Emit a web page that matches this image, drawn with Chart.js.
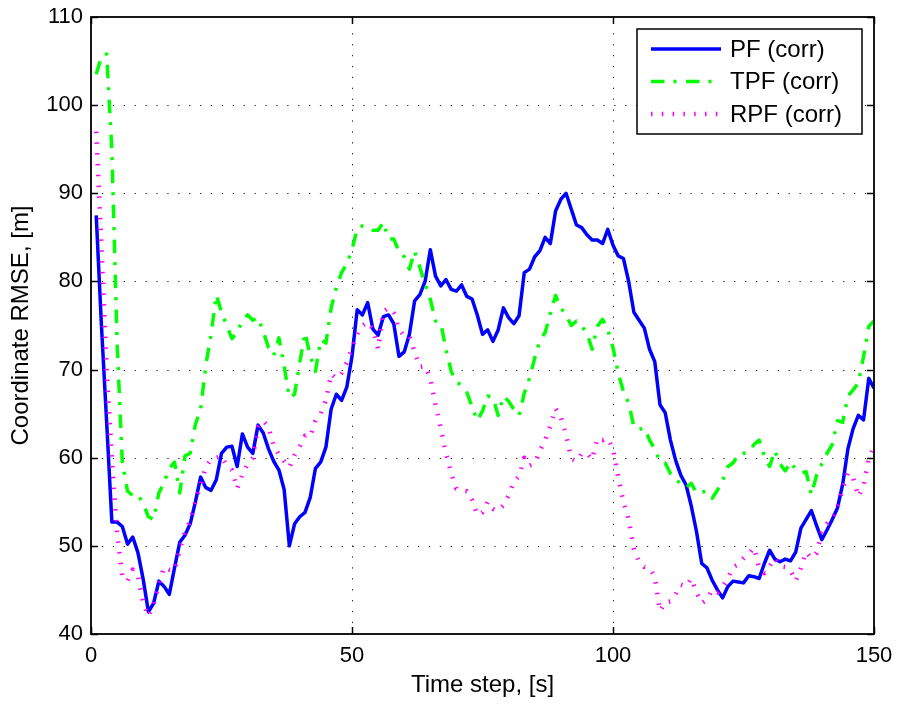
<!DOCTYPE html>
<html><head><meta charset="utf-8">
<script src="https://cdn.jsdelivr.net/npm/chart.js@4.4.1/dist/chart.umd.min.js"></script>
<style>html,body{margin:0;padding:0;background:#fff}canvas{display:block}</style>
</head><body>
<canvas id="c" width="898" height="704"></canvas>
<script>
const steps = Array.from({length: 150}, (_, i) => i + 1);
const xTicks = [0, 50, 100, 150];
const yTicks = [40, 50, 60, 70, 80, 90, 100, 110];
const seriesNames = ['PF (corr)', 'TPF (corr)', 'RPF (corr)'];
const xTitle = 'Time step, [s]';
const yTitle = 'Coordinate RMSE, [m]';

const pf = [
  87.5, 75, 64, 52.7, 52.7, 52.2, 50.2, 51.0, 49.2, 46.2,
  42.5, 43.5, 46.0, 45.4, 44.5, 47.5, 50.4, 51.2, 52.5, 55.0,
  57.8, 56.6, 56.3, 57.5, 60.5, 61.2, 61.3, 59.0, 62.7, 61.2,
  60.5, 63.7, 62.8, 61.0, 59.6, 58.6, 56.4, 50.0, 52.5, 53.3,
  53.8, 55.5, 58.8, 59.5, 61.2, 65.5, 67.2, 66.5, 68.0, 71.5,
  76.8, 76.2, 77.6, 74.6, 73.9, 76.0, 76.2, 75.2, 71.5, 72.0,
  74.0, 77.8, 78.5, 80.0, 83.6, 80.6, 79.5, 80.2, 79.1, 78.9,
  79.6, 78.3, 78.0, 76.2, 74.0, 74.5, 73.2, 74.5, 77.0, 75.9,
  75.2, 76.1, 81.0, 81.4, 82.8, 83.5, 85.0, 84.3, 88.0, 89.3,
  90.0, 88.2, 86.4, 86.1, 85.3, 84.7, 84.7, 84.3, 85.9, 84.1,
  82.9, 82.6, 80.0, 76.5, 75.6, 74.7, 72.3, 70.9, 66.0, 65.1,
  62.0, 59.7, 58.0, 56.9, 54.5, 51.6, 48.0, 47.5, 46.1, 45.0,
  44.1, 45.4, 46.0, 45.9, 45.8, 46.6, 46.5, 46.3, 48.0, 49.5,
  48.5, 48.2, 48.5, 48.3, 49.3, 52.0, 53.0, 54.0, 52.3, 50.7,
  51.8, 53.0, 54.3, 57.0, 61.0, 63.3, 64.8, 64.3, 69.0, 67.9
];
const tpf = [
  103.5, 105.5, 105.8, 94.8, 73.0, 59.5, 56.2, 55.7, 55.8, 54.8,
  53.3, 53.0, 56.0, 57.2, 58.8, 59.5, 56.0, 60.2, 60.5, 63.8,
  65.5, 70.5, 74.0, 78.5, 76.5, 75.0, 73.5, 74.2, 75.6, 76.2,
  75.6, 75.9, 74.3, 72.5, 71.6, 73.6, 70.4, 66.8, 67.2, 70.8,
  74.2, 71.5, 69.8, 73.4, 73.0, 77.0, 79.3, 81.0, 82.0, 83.6,
  86.0, 86.3, 86.2, 85.8, 85.8, 86.7, 84.8, 84.8, 83.4, 82.8,
  81.4, 83.4, 81.6, 79.7, 78.0, 75.5, 75.3, 72.3, 69.8, 68.6,
  68.2, 67.4, 65.8, 64.2, 65.3, 67.0, 66.8, 64.8, 67.0, 66.4,
  65.5, 64.8, 67.3, 69.0, 71.3, 73.3, 74.2, 76.4, 78.4, 77.0,
  76.2, 75.0, 75.5, 74.9, 74.2, 72.3, 74.9, 75.7, 74.5, 72.5,
  69.6, 67.5, 66.2, 63.5, 63.2, 63.4, 62.0, 61.0, 59.5, 59.4,
  58.2, 57.6, 57.0, 56.6, 57.1, 56.0, 56.1, 56.2, 55.4, 56.3,
  57.4, 59.0, 59.4, 60.4, 60.5, 60.6, 61.5, 62.0, 60.2, 59.0,
  60.8, 59.3, 58.5, 59.5, 58.7, 58.3, 58.4, 55.8, 58.0, 59.3,
  60.5, 61.5, 64.2, 64.0, 67.0, 67.7, 68.5, 71.5, 74.9, 75.5
];
const rpf = [
  97, 84, 70, 60, 51.4, 46.5, 46.0, 47.3, 46.5, 43.5,
  42.0, 43.5, 45.6, 47.6, 47.3, 47.2, 49.5, 51.6, 52.8, 55.0,
  56.9, 59.0, 59.8, 60.0, 60.2, 59.1, 58.6, 56.5, 58.1, 59.3,
  60.0, 63.5, 64.2, 63.5, 61.3, 60.4, 59.6, 58.9, 60.3, 61.3,
  62.5, 62.4, 64.2, 65.0, 66.5, 69.5, 69.0, 69.6, 70.8, 72.5,
  74.0, 75.0, 75.4, 74.6, 72.3, 76.6, 77.0, 76.4, 74.6, 73.8,
  73.8, 72.0, 70.3, 70.4, 69.0, 66.0, 63.4, 60.5, 58.2, 56.5,
  56.3, 56.2, 55.2, 53.5, 53.8, 55.0, 54.2, 54.0, 54.6, 55.7,
  57.3, 57.9, 60.0, 59.1, 59.4, 60.8, 62.0, 63.6, 65.6, 64.6,
  62.6, 59.9, 59.6, 60.5, 60.5, 59.8, 62.2, 62.0, 62.2, 61.0,
  57.8, 55.0, 53.0, 49.6, 48.2, 47.6, 47.5, 46.5, 42.6, 43.6,
  43.7, 44.5, 45.6, 45.4, 46.3, 44.7, 43.5, 43.9, 45.0, 44.7,
  45.4, 46.3, 47.6, 47.9, 48.6, 49.1, 49.8, 47.5, 46.9, 47.7,
  48.6, 47.7, 47.6, 47.2, 46.0, 47.5, 49.3, 48.6, 49.2, 51.5,
  52.5, 53.0, 54.4, 56.5, 58.3, 57.7, 55.6, 56.8, 60.0, 61.3
];

const FONT = "'Liberation Sans', Arial, Helvetica, sans-serif";
Chart.defaults.font.family = FONT;
Chart.defaults.color = '#000';

const toPoints = vals => steps.map((s, i) => ({x: s, y: vals[i]}));

const gridFramePlugin = {
  id: 'gridFrame',
  beforeDatasetsDraw(chart) {
    const {ctx, chartArea: a, scales: {x, y}} = chart;
    ctx.save();
    ctx.strokeStyle = '#222';
    ctx.lineWidth = 1;
    ctx.setLineDash([1.3, 9.6]);
    x.ticks.forEach(t => {
      const px = Math.round(x.getPixelForValue(t.value)) + 0.5;
      if (px > a.left + 3 && px < a.right - 3) {
        ctx.beginPath(); ctx.moveTo(px, a.bottom); ctx.lineTo(px, a.top); ctx.stroke();
      }
    });
    y.ticks.forEach(t => {
      const py = Math.round(y.getPixelForValue(t.value)) + 0.5;
      if (py > a.top + 3 && py < a.bottom - 3) {
        ctx.beginPath(); ctx.moveTo(a.left, py); ctx.lineTo(a.right, py); ctx.stroke();
      }
    });
    ctx.restore();
  },
  afterDatasetsDraw(chart) {
    const {ctx, chartArea: a, scales: {x, y}} = chart;
    ctx.save();
    ctx.setLineDash([]);
    ctx.strokeStyle = '#000';
    ctx.lineWidth = 1.5;
    const tl = 7;
    x.ticks.forEach(t => {
      const px = Math.round(x.getPixelForValue(t.value)) + 0.5;
      ctx.beginPath(); ctx.moveTo(px, a.bottom); ctx.lineTo(px, a.bottom - tl); ctx.stroke();
      ctx.beginPath(); ctx.moveTo(px, a.top); ctx.lineTo(px, a.top + tl); ctx.stroke();
    });
    y.ticks.forEach(t => {
      const py = Math.round(y.getPixelForValue(t.value)) + 0.5;
      ctx.beginPath(); ctx.moveTo(a.left, py); ctx.lineTo(a.left + tl, py); ctx.stroke();
      ctx.beginPath(); ctx.moveTo(a.right, py); ctx.lineTo(a.right - tl, py); ctx.stroke();
    });
    ctx.lineWidth = 1.8;
    ctx.strokeRect(a.left, a.top, a.right - a.left, a.bottom - a.top);
    ctx.restore();
  }
};

const legendPlugin = {
  id: 'boxLegend',
  afterDraw(chart) {
    const {ctx, chartArea: a} = chart;
    const w = 225, h = 105;
    const bx = a.right - 12 - w, by = a.top + 12;
    ctx.save();
    ctx.fillStyle = '#fff';
    ctx.fillRect(bx, by, w, h);
    ctx.strokeStyle = '#000';
    ctx.lineWidth = 1.5;
    ctx.setLineDash([]);
    ctx.strokeRect(bx, by, w, h);
    ctx.font = '24px ' + FONT;
    ctx.textBaseline = 'middle';
    ctx.textAlign = 'left';
    chart.data.datasets.forEach((ds, i) => {
      const ry = by + 20 + i * 32.5;
      ctx.save();
      ctx.strokeStyle = ds.borderColor;
      ctx.lineWidth = ds.borderWidth;
      ctx.lineCap = 'butt';
      ctx.setLineDash(ds.borderDash || []);
      ctx.beginPath(); ctx.moveTo(bx + 14, ry); ctx.lineTo(bx + 84, ry); ctx.stroke();
      ctx.restore();
      ctx.fillStyle = '#000';
      ctx.fillText(ds.label, bx + 93, ry + 1);
    });
    ctx.restore();
  }
};

new Chart(document.getElementById('c'), {
  type: 'line',
  data: {
    datasets: [
      {label: seriesNames[0], data: toPoints(pf), borderColor: '#0000ff', borderWidth: 3.5, borderDash: [], order: 3},
      {label: seriesNames[1], data: toPoints(tpf), borderColor: '#00ff00', borderWidth: 3.5, borderDash: [13.5, 9, 3, 9.5], order: 2},
      {label: seriesNames[2], data: toPoints(rpf), borderColor: '#ff00ff', borderWidth: 4.5, borderDash: [1.5, 9.3], order: 1}
    ]
  },
  options: {
    responsive: false,
    animation: false,
    devicePixelRatio: 1,
    events: [],
    elements: {point: {radius: 0}, line: {tension: 0, borderJoinStyle: 'round', borderCapStyle: 'butt'}},
    layout: {padding: {top: 17, right: 24, left: 0, bottom: 0}},
    plugins: {legend: {display: false}, tooltip: {enabled: false}},
    scales: {
      x: {
        type: 'linear', min: 0, max: 150,
        afterBuildTicks: s => { s.ticks = xTicks.map(v => ({value: v})); },
        afterFit: s => { s.height = 70; s.paddingLeft = 0; s.paddingRight = 0; },
        grid: {display: false, drawTicks: false},
        border: {display: false},
        ticks: {font: {size: 22}, padding: 9, maxRotation: 0, color: '#000'},
        title: {display: true, text: xTitle, font: {size: 24}, padding: {top: 0, bottom: 4}, color: '#000'}
      },
      y: {
        type: 'linear', min: 40, max: 110,
        afterBuildTicks: s => { s.ticks = yTicks.map(v => ({value: v})); },
        afterFit: s => { s.width = 91; s.paddingTop = 0; s.paddingBottom = 0; },
        grid: {display: false, drawTicks: false},
        border: {display: false},
        ticks: {font: {size: 22}, padding: 8, color: '#000'},
        title: {display: true, text: yTitle, font: {size: 24}, padding: {top: 7, bottom: 0}, color: '#000'}
      }
    }
  },
  plugins: [gridFramePlugin, legendPlugin]
});
</script>
</body></html>
